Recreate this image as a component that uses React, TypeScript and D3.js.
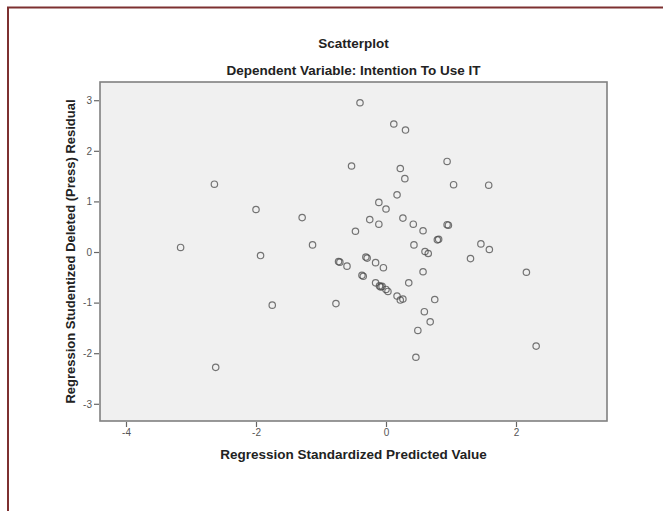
import {useEffect, useRef} from 'react';
import * as d3 from 'd3';

// Regression Standardized Predicted Value (x) and Studentized Deleted Residual (y)
const predicted = [
    -3.16, -2.64, -2.62, -2.0, -1.93, -1.75, -1.29, -1.13, -0.77, -0.73, -0.71,
    -0.6, -0.53, -0.47, -0.4, -0.37, -0.35, -0.31, -0.29, -0.25, -0.16, -0.16,
    -0.11, -0.11, -0.1, -0.08, -0.06, -0.04, 0.0, 0.0, 0.03, 0.12, 0.17, 0.17,
    0.22, 0.22, 0.26, 0.26, 0.29, 0.3, 0.35, 0.42, 0.43, 0.46, 0.49, 0.57, 0.57,
    0.59, 0.6, 0.65, 0.68, 0.75, 0.79, 0.81, 0.94, 0.94, 0.96, 1.04, 1.3, 1.46,
    1.58, 1.59, 2.16, 2.31,
];
const residual = [
    0.09, 1.34, -2.28, 0.84, -0.07, -1.05, 0.68, 0.14, -1.02, -0.19, -0.2,
    -0.28, 1.7, 0.41, 2.95, -0.46, -0.48, -0.1, -0.12, 0.64, -0.21, -0.61,
    0.98, 0.55, -0.67, -0.69, -0.68, -0.31, 0.85, -0.74, -0.78, 2.53, 1.13, -0.87,
    1.65, -0.95, 0.67, -0.93, 1.45, 2.41, -0.61, 0.55, 0.14, -2.08, -1.55, 0.42, -0.39,
    -1.18, 0.01, -0.03, -1.38, -0.94, 0.24, 0.25, 1.79, 0.54, 0.53, 1.33, -0.13, 0.16,
    1.32, 0.05, -0.4, -1.86,
];
const xTicks = [-4, -2, 0, 2];
const yTicks = [-3, -2, -1, 0, 1, 2, 3];

const title = 'Scatterplot';
const subtitle = 'Dependent Variable: Intention To Use IT';
const xTitle = 'Regression Standardized Predicted Value';
const yTitle = 'Regression Studentized Deleted (Press) Residual';

export default function App() {
    const ref = useRef<SVGSVGElement>(null);

    useEffect(() => {
        const width = 663;
        const height = 511;
        const m = {left: 100, right: 607, top: 82, bottom: 421};
        const svg = d3.select(ref.current);
        svg.selectAll('*').remove();

        const font = 'Arial, "Liberation Sans", sans-serif';

        // outer frame
        svg.append('rect')
            .attr('x', 8).attr('y', 7.5)
            .attr('width', width + 20).attr('height', height + 20)
            .attr('fill', 'none')
            .attr('stroke', '#7d3030')
            .attr('stroke-width', 2);

        const x = d3.scaleLinear().domain([-4.4, 3.4]).range([m.left, m.right]);
        const y = d3.scaleLinear().domain([-3.34, 3.36]).range([m.bottom, m.top]);

        svg.append('rect')
            .attr('x', m.left).attr('y', m.top)
            .attr('width', m.right - m.left).attr('height', m.bottom - m.top)
            .attr('fill', '#f0f0f0')
            .attr('stroke', '#808080')
            .attr('stroke-width', 1.6);

        const fmt = (d: d3.NumberValue) => String(d);

        const gx = svg.append('g')
            .attr('transform', `translate(0, ${m.bottom + 1})`)
            .call(d3.axisBottom(x).tickValues(xTicks).tickSize(5).tickPadding(2).tickFormat(fmt));
        const gy = svg.append('g')
            .attr('transform', `translate(${m.left - 1}, 0)`)
            .call(d3.axisLeft(y).tickValues(yTicks).tickSize(5).tickPadding(2).tickFormat(fmt));

        [gx, gy].forEach((g) => {
            g.select('.domain').remove();
            g.selectAll('line').attr('stroke', '#666').attr('stroke-width', 1.2);
            g.selectAll('text')
                .attr('fill', '#555')
                .attr('font-size', '10px')
                .attr('font-family', font);
        });

        svg.append('g')
            .selectAll('circle')
            .data(predicted.map((p, i) => [p, residual[i]]))
            .enter()
            .append('circle')
            .attr('cx', (d) => x(d[0]))
            .attr('cy', (d) => y(d[1]))
            .attr('r', 3.2)
            .attr('fill', 'none')
            .attr('stroke', '#4a4a4a')
            .attr('stroke-opacity', 0.75)
            .attr('stroke-width', 1.2);

        const cx = (m.left + m.right) / 2;
        const text = (t: string, tx: number, ty: number, size: number) =>
            svg.append('text')
                .attr('x', tx).attr('y', ty)
                .attr('text-anchor', 'middle')
                .attr('font-family', font)
                .attr('font-weight', 'bold')
                .attr('font-size', `${size}px`)
                .attr('fill', '#222')
                .text(t);

        text(title, cx, 48, 13.5);
        text(subtitle, cx, 75, 13.5);
        text(xTitle, cx, 459, 13.5);
        text(yTitle, 0, 0, 13)
            .attr('transform', `translate(75, ${(m.top + m.bottom) / 2}) rotate(-90)`);
    }, []);

    return (
        <svg
            ref={ref}
            width={663}
            height={511}
            style={{position: 'absolute', left: 0, top: 0, background: '#fff'}}
        />
    );
}
